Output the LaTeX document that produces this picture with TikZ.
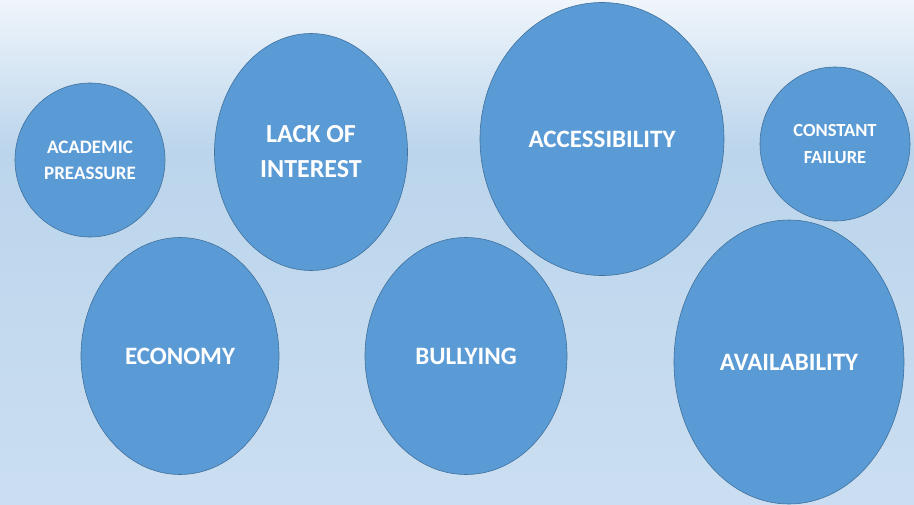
\documentclass[tikz,border=0pt]{standalone}
\usepackage{fontspec}
\setmainfont{Carlito}
\usepackage{tikz}
\usetikzlibrary{shapes.geometric}
\definecolor{bubble}{HTML}{5B9BD5}
\definecolor{bubbleline}{HTML}{41719C}
\definecolor{skytop}{HTML}{EFF5FB}
\definecolor{skymid}{HTML}{BBD5EC}
\definecolor{skylow}{HTML}{CBDEF1}
\tikzset{bubble/.style={ellipse, draw=bubbleline, fill=bubble, line width=0.6pt, inner sep=0, text=white, font=\bfseries, align=center}}

\begin{document}
\begin{tikzpicture}[x=1pt, y=-1pt]
    \shade[top color=skytop, bottom color=skymid] (0, 0) rectangle (914, 150);
    \shade[top color=skymid, bottom color=skylow] (0, 150) rectangle (914, 504);
    \useasboundingbox (0, 0) rectangle (914, 504);

    \node[bubble, minimum width=150, minimum height=154, font=\bfseries\fontsize{19}{26}\selectfont] at (90, 160) (pressure) {ACADEMIC\\PREASSURE};
    \node[bubble, minimum width=193, minimum height=237, font=\bfseries\fontsize{26}{35}\selectfont] at (311, 152) (interest) {LACK OF\\INTEREST};
    \node[bubble, minimum width=244, minimum height=273, font=\bfseries\fontsize{25}{34}\selectfont] at (602, 139) (access) {ACCESSIBILITY};
    \node[bubble, minimum width=150, minimum height=154, font=\bfseries\fontsize{18.5}{27}\selectfont] at (835, 144) (failure) {CONSTANT\\FAILURE};

    \node[bubble, minimum width=198, minimum height=237, font=\bfseries\fontsize{25}{34}\selectfont] at (180, 356) (economy) {ECONOMY};
    \node[bubble, minimum width=202, minimum height=237, font=\bfseries\fontsize{25}{34}\selectfont] at (466, 356) (bully) {BULLYING};
    \node[bubble, minimum width=230, minimum height=284, font=\bfseries\fontsize{25}{34}\selectfont] at (789, 362) (avail) {AVAILABILITY};
  \end{tikzpicture}
\end{document}
